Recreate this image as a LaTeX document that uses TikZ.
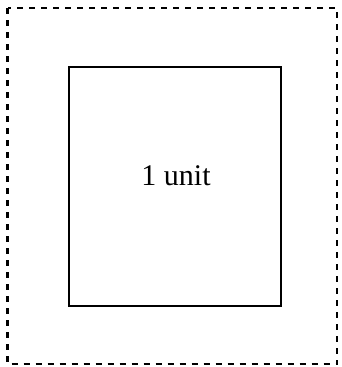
\documentclass[tikz,border=0pt]{standalone}
\usepackage{fontspec}
\setmainfont{Liberation Serif}
\usetikzlibrary{positioning}

\begin{document}
\begin{tikzpicture}[
        x=1pt, y=-1pt,
        % Style du cadre extérieur (pointillés)
        box_outer/.style={draw=black, line width=2.4pt, dash pattern=on 6pt off 6pt},
        % Style du carré unité
        box_unit/.style={draw=black, line width=2pt, minimum width=212pt, minimum height=239pt, inner sep=0pt},
        % Style du texte
        text_unit/.style={font=\fontsize{30}{36}\selectfont, inner sep=0pt}
    ]
    \useasboundingbox (0,0) rectangle (341,367);

    % --- CADRE ---
    \coordinate (outerNW) at (7.5,8);
    \coordinate (outerSE) at (337,364);
    \draw[box_outer] (outerNW) rectangle (outerSE);

    % --- CARRÉ ---
    \node[box_unit] (unit) at (175,186.5) {};
    \node[text_unit, anchor=base] (label) at ([xshift=1pt, yshift=1.5pt]unit.center) {1 unit};

\end{tikzpicture}
\end{document}
